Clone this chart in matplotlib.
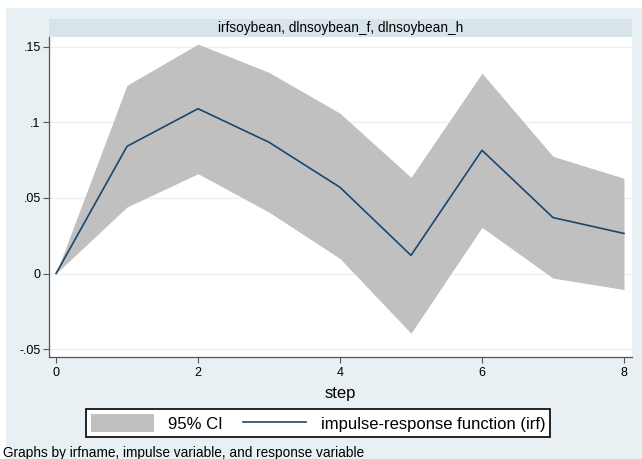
import matplotlib.pyplot as plt
from matplotlib.patches import Rectangle

plt.rcParams['font.family'] = ['Liberation Sans', 'DejaVu Sans']

# IRF values
steps = [0, 1, 2, 3, 4, 5, 6, 7, 8]
irf = [0, 0.0841, 0.109, 0.0868, 0.057, 0.012, 0.0815, 0.037, 0.0265]
upper = [0, 0.1245, 0.1517, 0.133, 0.106, 0.0636, 0.1325, 0.0775, 0.063]
lower = [0, 0.044, 0.066, 0.0406, 0.0099, -0.0395, 0.0305, -0.003, -0.0106]
y_ticks = [-0.05, 0, 0.05, 0.1, 0.15]
y_labels = ['-.05', '0', '.05', '.1', '.15']
x_ticks = [0, 2, 4, 6, 8]

bg = '#e8f0f3'
band = '#d7e4ea'
navy = '#1a476f'

fig = plt.figure(figsize=(6.42, 4.59), dpi=100)
fig.patch.set_facecolor('white')
# light Stata-like background, with thin white margin on top/left
fig.patches.append(Rectangle((6 / 642, 0), 1, 1 - 8 / 459, transform=fig.transFigure,
                             facecolor=bg, edgecolor='none', zorder=-10))

# title band
tax = fig.add_axes([49 / 642, 1 - 37 / 459, 583 / 642, 18 / 459])
tax.set_facecolor(band)
tax.set_xticks([])
tax.set_yticks([])
for s in tax.spines.values():
    s.set_visible(False)
tax.text(0.5, 0.5, 'irfsoybean, dlnsoybean_f, dlnsoybean_h', ha='center', va='center',
         fontsize=9.8, transform=tax.transAxes)

ax = fig.add_axes([49 / 642, 1 - 357 / 459, 583 / 642, 320 / 459])
ax.set_facecolor('white')

ci = ax.fill_between(steps, lower, upper, color='#c0c0c0', linewidth=0, label='95% CI', zorder=2)
ln, = ax.plot(steps, irf, color=navy, linewidth=1.2, label='impulse-response function (irf)', zorder=3)

ax.set_xlim(-0.099, 8.113)
ax.set_ylim(-0.0552, 0.1564)
ax.set_yticks(y_ticks)
ax.set_yticklabels(y_labels)
ax.set_xticks(x_ticks)
ax.yaxis.grid(True, color=bg, linewidth=1.0, zorder=1)
ax.set_axisbelow(True)
ax.tick_params(axis='both', labelsize=9, length=4, width=0.8, color='#555555')
ax.tick_params(axis='y', pad=2)
ax.tick_params(axis='x', pad=3)
for side in ['top', 'right']:
    ax.spines[side].set_visible(False)
for side in ['left', 'bottom']:
    ax.spines[side].set_color('#555555')
    ax.spines[side].set_linewidth(0.9)

ax.set_xlabel('step', fontsize=12, labelpad=5)

leg = fig.legend(handles=[ci, ln], loc='center', bbox_to_anchor=(318 / 642, 1 - 423 / 459),
                 ncol=2, fontsize=12, frameon=True, fancybox=False, edgecolor='black',
                 handlelength=3.8, handleheight=1.2, columnspacing=1.2, handletextpad=0.85,
                 borderpad=0.3, borderaxespad=0, framealpha=1)
leg.get_frame().set_linewidth(1.2)

fig.text(3 / 642, 1 - 453 / 459, 'Graphs by irfname, impulse variable, and response variable',
         fontsize=9.8, va='center', ha='left')

plt.savefig('out.png', dpi=100)
